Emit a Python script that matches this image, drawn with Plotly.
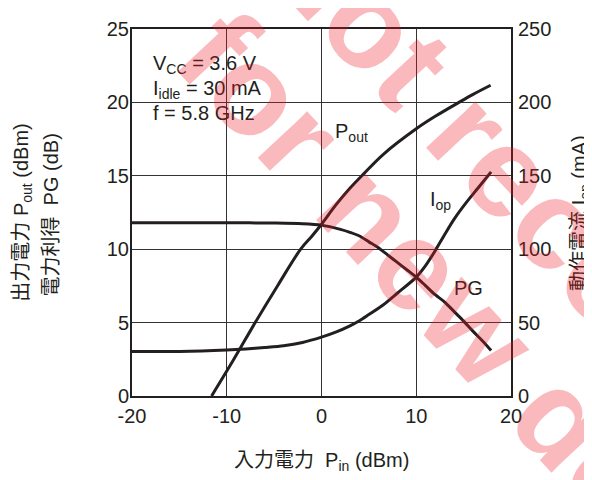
import plotly.graph_objects as go

# ---- data ----
pin_pout = [-11.6, -9.3, -7.0, -4.6, -2.2, -1.0, 0.0, 1.5, 3.0, 4.4, 6.5, 10.0, 12.0, 14.5, 16.0, 17.85]
pout = [0.0, 2.45, 5.0, 7.55, 10.0, 10.9, 11.7, 13.0, 14.15, 15.1, 16.45, 18.2, 19.05, 20.0, 20.55, 21.17]

pin_pg = [-20, -15, -10, -5, -2, 0, 2, 3, 4, 5, 6, 7, 8, 9, 10, 11, 12, 13, 14, 15, 16, 17, 17.9]
pg = [11.8, 11.8, 11.8, 11.78, 11.74, 11.64, 11.35, 11.15, 10.9, 10.5, 10.1, 9.6, 9.1, 8.6, 8.1, 7.5, 6.9, 6.4, 5.75, 5.1, 4.4, 3.75, 3.1]

pin_iop = [-20, -15, -10, -8, -6, -4, -2, 0, 1.5, 3, 4, 5, 6.5, 8, 10, 11, 12, 13, 14, 15.27, 16.5, 17.9]
iop = [30.3, 30.3, 31.3, 32.0, 33.0, 34.2, 36.5, 40.1, 43.5, 47.8, 51.3, 55.5, 62.0, 70.0, 81.0, 89.0, 99.0, 110.0, 120.5, 131.7, 141.5, 152.7]

x_ticks = [-20, -10, 0, 10, 20]
y_left_ticks = [0, 5, 10, 15, 20, 25]
y_right_ticks = [0, 50, 100, 150, 200, 250]

LINE = "#231f20"
FONT = "Liberation Sans, Arial, Noto Sans CJK JP, sans-serif"
JFONT = "Liberation Sans, Noto Sans CJK JP, sans-serif"

# the page body has an 8px margin: work in page pixels, convert to figure pixels
OFF = 8
W, H = 592 - OFF, 480 - OFF
PL, PR, PT, PB = 132, 511.5, 18, 396          # plot area in page pixels
L, R, T, B = PL - OFF, W - (PR - OFF), PT - OFF, H - (PB - OFF)
pw, ph = PR - PL, PB - PT

def px(x):
    return (x - PL) / pw

def py(y):
    return (PB - y) / ph

fig = go.Figure()
fig.add_trace(go.Scatter(x=pin_pg, y=pg, mode="lines", line=dict(color=LINE, width=3, shape="spline", smoothing=0.8), yaxis="y", hoverinfo="skip"))
fig.add_trace(go.Scatter(x=pin_pout, y=pout, mode="lines", line=dict(color=LINE, width=3, shape="spline", smoothing=1.0), yaxis="y", hoverinfo="skip"))
fig.add_trace(go.Scatter(x=pin_iop, y=iop, mode="lines", line=dict(color=LINE, width=3, shape="spline", smoothing=0.8), yaxis="y2", hoverinfo="skip"))

fig.update_layout(
    width=W, height=H,
    margin=dict(l=L, r=R, t=T, b=B),
    paper_bgcolor="white", plot_bgcolor="white",
    showlegend=False,
    font=dict(family=FONT, size=20, color="#231f20"),
    xaxis=dict(range=[-20, 20], tickvals=x_ticks, ticktext=[str(v) for v in x_ticks],
               showgrid=True, gridcolor="#333333", gridwidth=1.3, zeroline=False,
               showline=True, linecolor="#231f20", linewidth=2, mirror=True,
               ticks="", ticklabelstandoff=1, tickfont=dict(size=20)),
    yaxis=dict(range=[0, 25], tickvals=y_left_ticks, ticktext=[str(v) for v in y_left_ticks],
               showgrid=True, gridcolor="#333333", gridwidth=1.3, zeroline=False,
               showline=True, linecolor="#231f20", linewidth=2, mirror=True,
               ticks="", ticklabelstandoff=-3, tickfont=dict(size=20)),
    yaxis2=dict(range=[0, 250], tickvals=y_right_ticks, ticktext=[str(v) for v in y_right_ticks],
                overlaying="y", side="right", showgrid=False, zeroline=False, showline=False,
                ticks="", ticklabelstandoff=6, tickfont=dict(size=20)),
)

# white box behind the condition text
fig.add_shape(type="rect", xref="x", yref="y", x0=-18.74, x1=-3.56, y0=17.8, y1=24.0,
              fillcolor="white", line=dict(width=0), layer="below")

ann = []
ann.append(dict(x=px(151), y=py(55), text="V<sub>CC</sub> = 3.6 V", xanchor="left", yanchor="middle"))
ann.append(dict(x=px(151), y=py(80), text="I<sub>idle</sub> = 30 mA", xanchor="left", yanchor="middle"))
ann.append(dict(x=px(151), y=py(105), text="f = 5.8 GHz", xanchor="left", yanchor="middle"))
ann.append(dict(x=px(333), y=py(125), text="P<sub>out</sub>", xanchor="left", yanchor="middle"))
ann.append(dict(x=px(428), y=py(195), text="I<sub>op</sub>", xanchor="left", yanchor="middle"))
ann.append(dict(x=px(452), y=py(285), text="PG", xanchor="left", yanchor="middle"))
# axis titles
ann.append(dict(x=px(322), y=py(463), text="入力電力  P<sub>in</sub> (dBm)", xanchor="center", yanchor="middle", font=dict(family=JFONT, size=20)))
ann.append(dict(x=px(22), y=py(207), text="出力電力 P<sub>out</sub> (dBm)", textangle=-90, xanchor="center", yanchor="middle", font=dict(family=JFONT, size=20)))
ann.append(dict(x=px(51), y=py(210), text="電力利得  PG (dB)", textangle=-90, xanchor="center", yanchor="middle", font=dict(family=JFONT, size=20)))
ann.append(dict(x=px(581), y=py(207), text="動作電流 I<sub>op</sub> (mA)", textangle=-90, xanchor="center", yanchor="middle", font=dict(family=JFONT, size=20)))
# watermark
wm = dict(family="Liberation Sans, Arial, sans-serif", size=128, color="rgba(237,28,36,0.3)")
ann.append(dict(x=px(672), y=py(344), text="<b>not recommended</b>", textangle=47, xanchor="center", yanchor="middle", font=wm))
ann.append(dict(x=px(510), y=py(362), text="<b>for new design</b>", textangle=47, xanchor="center", yanchor="middle", font=wm))

for a in ann:
    a.setdefault("xref", "paper")
    a.setdefault("yref", "paper")
    a.setdefault("showarrow", False)
    a.setdefault("font", dict(family=FONT, size=20, color="#231f20"))
    fig.add_annotation(**a)

fig.write_html("out.html")
